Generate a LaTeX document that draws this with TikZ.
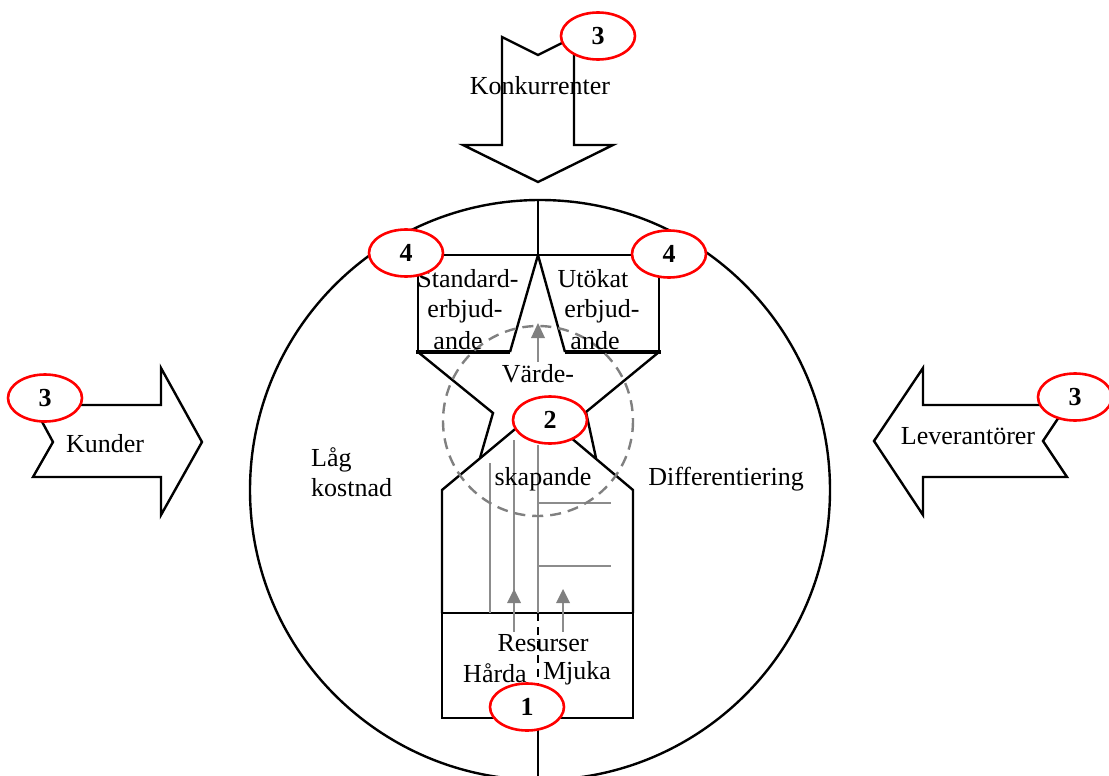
\documentclass[tikz,border=0pt]{standalone}
\usepackage{fontspec}
\setmainfont{Liberation Serif}
\usetikzlibrary{shapes.geometric}
\begin{document}
\begin{tikzpicture}[x=1pt,y=-1pt,
  lbl/.style={font=\fontsize{26}{30}\selectfont, inner sep=0pt, anchor=center},
  badge/.style={draw=red, line width=2.6pt, fill=white, ellipse, minimum width=74pt,
    minimum height=47pt, inner sep=0pt, font=\fontsize{26}{30}\selectfont\bfseries},
  outline/.style={line width=2.4pt, line join=miter},
  bigarrow/.style={outline, fill=white},
  guide/.style={black!45, line width=1.2pt},
  tip/.style={fill=black!50, draw=none},
  zone/.style={draw=black!50, dashed, dash pattern=on 11pt off 7pt, line width=2.4pt}
]
\useasboundingbox (0,0) rectangle (1109,776);

% outer circle and the axis through it
\draw[outline] (540,490) circle[radius=290];
\coordinate (axtop) at (538,200);
\coordinate (axjoin) at (538,255);
\coordinate (axbot) at (538,776);
\draw[outline] (axtop) -- (axjoin);

% forces acting from outside
\draw[bigarrow] (502,37) -- (538,55) -- (574,37) -- (574,145) -- (613,145)
  -- (538,182) -- (463,145) -- (502,145) -- cycle;
\draw[bigarrow] (33,405) -- (161,405) -- (161,368) -- (202,442) -- (161,515)
  -- (161,477) -- (33,477) -- (53,442) -- cycle;
\draw[bigarrow] (1067,405) -- (923,405) -- (923,368) -- (874,441) -- (923,515)
  -- (923,477) -- (1067,477) -- (1043,441) -- cycle;

% offer boxes and star
\draw[outline] (418,352) -- (418,255) -- (659,255) -- (659,352);
\draw[line width=4.5pt] (416,352) -- (510,352);
\draw[line width=4.5pt] (565,352) -- (661,352);
\draw[outline] (510,352) -- (538,255) -- (565,352);
\draw[outline] (418,352) -- (493,413) -- (480,458);
\draw[outline] (659,352) -- (586,412) -- (596,458);

% resource house
\draw[outline] (442,613) -- (442,490) -- (538,410) -- (633,490) -- (633,613);
\draw[outline] (442,613) rectangle (633,718);
\draw[outline, line width=2.8pt, dashed, dash pattern=on 8pt off 6pt] (538,613) -- (538,684);
\coordinate (axlow) at (538,730);
\draw[outline] (axlow) -- (axbot);

% internal guide lines
\draw[guide] (490,463) -- (490,613);
\draw[guide] (514,440) -- (514,632);
\draw[guide] (563,600) -- (563,632);
\draw[guide] (538,445) -- (538,613);
\draw[guide] (538,503) -- (611,503);
\draw[guide] (538,566) -- (611,566);
\draw[guide] (538,336) -- (538,362);
\fill[tip] (514,589) -- (521,603) -- (507,603) -- cycle;
\fill[tip] (563,589) -- (570,603) -- (556,603) -- cycle;
\fill[tip] (538,323) -- (545,338) -- (531,338) -- cycle;

% value creation zone
\draw[zone] (538,421) circle[radius=95];

% labels
\node[lbl] (konk) at (540,86) {Konkurrenter};
\node[lbl] (kund) at (105,444) {Kunder};
\node[lbl] (lev) at (968,436) {Leverantörer};
\node[lbl] (std1) at (468,279) {Standard-};
\node[lbl] (std2) at (465,311) {erbjud-};
\node[lbl] (std3) at (458,341) {ande};
\node[lbl] (ut1) at (593,279) {Utökat};
\node[lbl] (ut2) at (602,311) {erbjud-};
\node[lbl] (ut3) at (595,341) {ande};
\node[lbl] (varde) at (538,374) {Värde-};
\node[lbl] (skap) at (543,479) {skapande};
\node[lbl, align=left, anchor=west] (lag) at (311,472) {Låg\\kostnad};
\node[lbl] (diff) at (726,479) {Differentiering};
\node[lbl] (res) at (543,643) {Resurser};
\node[lbl] (hard) at (495,673) {Hårda};
\node[lbl] (mjuk) at (577,673) {Mjuka};

% numbered markers
\node[badge] (n3top) at (598,36) {3};
\node[badge] (n3left) at (45,398) {3};
\node[badge] (n3right) at (1075,397) {3};
\node[badge] (n4left) at (406,253) {4};
\node[badge] (n4right) at (669,254) {4};
\node[badge] (n2) at (550,420) {2};
\node[badge] (n1) at (527,707) {1};
\end{tikzpicture}
\end{document}
